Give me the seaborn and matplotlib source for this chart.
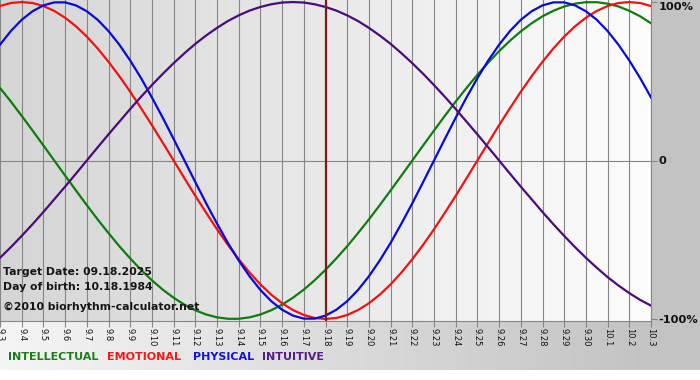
"""
Biorhythm chart for target date 09.18.2025 (birth 10.18.1984).
Four rhythms plotted across 9.3 - 10.3, values in percent.
"""

import numpy as np
import pandas as pd
import matplotlib.pyplot as plt
import seaborn as sns
from matplotlib.colors import LinearSegmentedColormap
from matplotlib.patches import Rectangle

# Day labels along the bottom axis (9.3 ... 10.3)
day_labels = ["9.3", "9.4", "9.5", "9.6", "9.7", "9.8", "9.9", "9.10", "9.11",
              "9.12", "9.13", "9.14", "9.15", "9.16", "9.17", "9.18", "9.19",
              "9.20", "9.21", "9.22", "9.23", "9.24", "9.25", "9.26", "9.27",
              "9.28", "9.29", "9.30", "10.1", "10.2", "10.3"]

# Values every half day (9.3 00:00, 9.3 12:00, ...), in percent
intellectual = [45.8, 37.2, 28.2, 18.9, 9.5,
                0, -9.5, -18.9, -28.2, -37.2, -45.8, -54.1, -61.8, -69.0, -75.6,
                -81.5, -86.6, -91.0, -94.5, -97.2, -99.0, -99.9, -99.9, -99.0,
                -97.2, -94.5, -91.0, -86.6, -81.5, -75.6, -69.0, -61.8, -54.1,
                -45.8, -37.2, -28.2, -18.9, -9.5,
                0, 9.5, 18.9, 28.2, 37.2, 45.8, 54.1, 61.8, 69.0, 75.6, 81.5,
                86.6, 91.0, 94.5, 97.2, 99.0, 99.9, 99.9, 99.0, 97.2, 94.5,
                91.0, 86.6]
emotional = [97.5, 99.4, 100, 99.4, 97.5, 94.4, 90.1, 84.7, 78.2, 70.7, 62.3,
             53.2, 43.4, 33.0, 22.3, 11.2,
             0, -11.2, -22.3, -33.0, -43.4, -53.2, -62.3, -70.7, -78.2, -84.7,
             -90.1, -94.4, -97.5, -99.4, -100, -99.4, -97.5, -94.4, -90.1,
             -84.7, -78.2, -70.7, -62.3, -53.2, -43.4, -33.0, -22.3, -11.2,
             0, 11.2, 22.3, 33.0, 43.4, 53.2, 62.3, 70.7, 78.2, 84.7, 90.1,
             94.4, 97.5, 99.4, 100, 99.4, 97.5]
physical = [73.1, 81.7, 88.8, 94.2, 97.9, 99.8, 99.8, 97.9, 94.2, 88.8, 81.7,
            73.1, 63.1, 52.0, 39.8, 27.0, 13.6,
            0, -13.6, -27.0, -39.8, -52.0, -63.1, -73.1, -81.7, -88.8, -94.2,
            -97.9, -99.8, -99.8, -97.9, -94.2, -88.8, -81.7, -73.1, -63.1,
            -52.0, -39.8, -27.0, -13.6,
            0, 13.6, 27.0, 39.8, 52.0, 63.1, 73.1, 81.7, 88.8, 94.2, 97.9,
            99.8, 99.8, 97.9, 94.2, 88.8, 81.7, 73.1, 63.1, 52.0, 39.8]
intuitive = [-61.4, -54.7, -47.6, -40.2, -32.5, -24.5, -16.5, -8.3,
             0, 8.3, 16.5, 24.5, 32.5, 40.2, 47.6, 54.7, 61.4, 67.7, 73.6,
             78.9, 83.7, 88.0, 91.6, 94.6, 96.9, 98.6, 99.7, 100, 99.7, 98.6,
             96.9, 94.6, 91.6, 88.0, 83.7, 78.9, 73.6, 67.7, 61.4, 54.7, 47.6,
             40.2, 32.5, 24.5, 16.5, 8.3,
             0, -8.3, -16.5, -24.5, -32.5, -40.2, -47.6, -54.7, -61.4, -67.7,
             -73.6, -78.9, -83.7, -88.0, -91.6]

target_day = "9.18"
target_text = "Target Date: 09.18.2025"
birth_text = "Day of birth: 10.18.1984"
credit_text = "\u00a92010 biorhythm-calculator.net"

rhythm_names = ["INTELLECTUAL", "EMOTIONAL", "PHYSICAL", "INTUITIVE"]
line_colors = ["#0d7d0d", "#f01212", "#0a0ad8", "#4a0c7c"]
legend_colors = ["#1a7f1a", "#f01a1a", "#1414d0", "#551d8a"]

# long table for seaborn, x in days from 9.3
rows = []
for name, vals in zip(rhythm_names, [intellectual, emotional, physical, intuitive]):
    for i, v in enumerate(vals):
        rows.append({"day": i / 2, "value": v, "rhythm": name})
df = pd.DataFrame(rows)

W, H = 700, 380
fig = plt.figure(figsize=(7, 3.8), dpi=100)
fig.patch.set_facecolor("white")

# background layer in pixel coordinates (grey frame + bottom strip)
bg = fig.add_axes([0, 0, 1, 1])
bg.set_xlim(0, W)
bg.set_ylim(H, 0)
bg.axis("off")
bg.set_zorder(0)
bg.add_patch(Rectangle((651, 0), 49, 370, color="#c3c3c3", lw=0))
strip_cmap = LinearSegmentedColormap.from_list("strip", ["#f5f5f5", "#c3c3c3"])
bg.imshow(np.linspace(0, 1, 256).reshape(1, -1), cmap=strip_cmap,
          extent=[0, 651, 370, 321], aspect="auto", zorder=0)

# plot area
ax = fig.add_axes([0, (H - 321) / H, 651 / W, 321 / H])
ax.set_zorder(1)
n_days = len(day_labels)
ylim = 101.3
area_cmap = LinearSegmentedColormap.from_list("area", ["#d5d5d5", "#fdfdfd"])
ax.imshow(np.linspace(0, 1, 256).reshape(1, -1), cmap=area_cmap,
          extent=[0, n_days - 1, -ylim, ylim], aspect="auto", zorder=0)

sns.lineplot(data=df, x="day", y="value", hue="rhythm", hue_order=rhythm_names,
             palette=line_colors, estimator=None, linewidth=1.6, legend=False,
             ax=ax, zorder=3)

grid_col = "#868686"
ax.axhline(0, color=grid_col, lw=0.8, zorder=1)
ax.axvline(day_labels.index(target_day), color="#7a1a1a", lw=1.6, zorder=4)

ax.set_xlim(0, n_days - 1)
ax.set_ylim(-ylim, ylim)
ax.set_xticks(range(n_days))
ax.set_xticklabels(day_labels)
ax.grid(axis="x", color=grid_col, lw=0.8)
for line in ax.get_xgridlines():
    line.set_zorder(1)
ax.tick_params(axis="x", length=4, width=0.8, color=grid_col, direction="out",
               pad=1, labelsize=6, labelrotation=-90, labelcolor="#111111")

ax.yaxis.tick_right()
ax.set_yticks([-100, 0, 100])
ax.set_yticklabels(["-100%", "0", "100%"], fontsize=8.2, fontweight="bold",
                   color="#111111")
ax.get_yticklabels()[2].set_va("top")
ax.tick_params(axis="y", length=4, width=0.8, color=grid_col, pad=1.5)
ax.set_xlabel("")
ax.set_ylabel("")

for side in ["top", "left"]:
    ax.spines[side].set_visible(False)
for side in ["bottom", "right"]:
    ax.spines[side].set_color(grid_col)
    ax.spines[side].set_linewidth(0.8)

# text overlay, same pixel coordinates as the background
top = fig.add_axes([0, 0, 1, 1])
top.set_xlim(0, W)
top.set_ylim(H, 0)
top.axis("off")
top.set_zorder(2)
top.patch.set_visible(False)

info_style = dict(fontsize=7.8, fontweight="bold", color="#151515", va="center",
                  ha="left")
top.text(3, 272, target_text, **info_style)
top.text(3, 287, birth_text, **info_style)
top.text(3, 307, credit_text, **info_style)

# coloured legend words
legend_x = [8, 107, 193, 262]
for x, name, col in zip(legend_x, rhythm_names, legend_colors):
    top.text(x, 357, name, fontsize=8, fontweight="bold", color=col,
             va="center", ha="left")

fig.savefig("out.png", dpi=100)
